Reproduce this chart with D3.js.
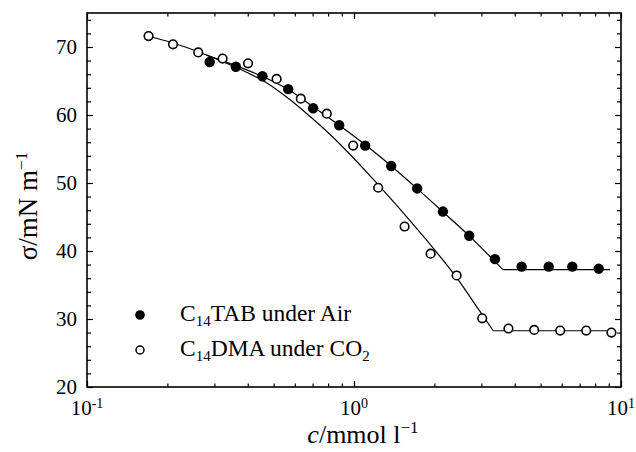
<!DOCTYPE html>
<html>
<head>
<meta charset="utf-8">
<script src="https://cdn.jsdelivr.net/npm/d3@7"></script>
<style>
  body { margin: 0; background: #fff; }
  text { font-family: "Liberation Serif", "Times New Roman", serif; fill: #000; }
</style>
</head>
<body>
<div id="chart-area"></div>
<script>
// C14TAB under air (filled dots)
const tabConc  = [0.288, 0.361, 0.454, 0.567, 0.703, 0.880, 1.101, 1.378, 1.724, 2.153, 2.701, 3.372, 4.245, 5.36, 6.57, 8.25];
const tabSigma = [67.8, 67.1, 65.7, 63.8, 61.0, 58.5, 55.5, 52.5, 49.2, 45.8, 42.25, 38.8, 37.7, 37.7, 37.7, 37.4];

// C14DMA under CO2 (open circles)
const dmaConc  = [0.170, 0.210, 0.261, 0.322, 0.401, 0.513, 0.632, 0.791, 0.993, 1.232, 1.547, 1.936, 2.423, 3.021, 3.788, 4.73, 5.92, 7.41, 9.21];
const dmaSigma = [71.6, 70.4, 69.2, 68.3, 67.6, 65.3, 62.4, 60.2, 55.5, 49.3, 43.6, 39.6, 36.4, 30.1, 28.6, 28.4, 28.3, 28.3, 28.0];

// fitted lines (last two points = flat part after the break)
const tabFitConc  = [0.28, 0.320, 0.374, 0.457, 0.567, 0.703, 0.885, 1.114, 1.382, 1.716, 2.158, 2.694, 3.613, 9.09];
const tabFitSigma = [68.8, 68.0, 67.02, 65.62, 63.74, 61.21, 58.42, 55.48, 52.47, 49.24, 45.71, 42.26, 37.25, 37.25];

const dmaFitConc  = [0.169, 0.210, 0.261, 0.320, 0.396, 0.457, 0.567, 0.683, 0.812, 0.965, 1.147, 1.362, 1.620, 1.980, 2.423, 2.837, 3.322, 9.36];
const dmaFitSigma = [71.62, 70.59, 69.31, 67.9, 66.28, 65.03, 62.46, 59.82, 57.17, 54.23, 51.08, 47.84, 44.46, 40.42, 36.09, 32.2, 28.27, 28.27];

const xMajor = [0.1, 1, 10];
const xMajorExp = ["-1", "0", "1"];
const yMajor = [20, 30, 40, 50, 60, 70];

const width = 636;
const height = 452;
const margin = { top: 13, right: 15, bottom: 65, left: 87 };

const svg = d3.select("#chart-area")
    .append("svg")
    .attr("width", width)
    .attr("height", height);

const x = d3.scaleLog()
    .domain([0.1, 10])
    .range([margin.left, width - margin.right]);

const y = d3.scaleLinear()
    .domain([20, 75])
    .range([height - margin.bottom, margin.top]);

// minor ticks
const xMinor = [];
[0.1, 1].forEach(base => {
    for (let k = 2; k <= 9; k++) xMinor.push(base * k);
});
const yMinor = d3.range(22, 75, 2).filter(v => v % 10 !== 0);

function styleAxis(g) {
    g.select(".domain").remove();
    g.selectAll("line").attr("stroke", "#000").attr("stroke-width", 1.2);
}

const plotBottom = height - margin.bottom;
const plotTop = margin.top;
const plotLeft = margin.left;
const plotRight = width - margin.right;

// bottom / top axis ticks
svg.append("g").attr("transform", `translate(0,${plotBottom})`)
    .call(d3.axisBottom(x).tickValues(xMinor).tickSize(-3.5).tickFormat(""))
    .call(styleAxis);
svg.append("g").attr("transform", `translate(0,${plotBottom})`)
    .call(d3.axisBottom(x).tickValues(xMajor).tickSize(-6).tickFormat(""))
    .call(styleAxis);
svg.append("g").attr("transform", `translate(0,${plotTop})`)
    .call(d3.axisTop(x).tickValues(xMinor).tickSize(-3.5).tickFormat(""))
    .call(styleAxis);
svg.append("g").attr("transform", `translate(0,${plotTop})`)
    .call(d3.axisTop(x).tickValues(xMajor).tickSize(-6).tickFormat(""))
    .call(styleAxis);

// left / right axis ticks
svg.append("g").attr("transform", `translate(${plotLeft},0)`)
    .call(d3.axisLeft(y).tickValues(yMinor).tickSize(-4).tickFormat(""))
    .call(styleAxis);
svg.append("g").attr("transform", `translate(${plotLeft},0)`)
    .call(d3.axisLeft(y).tickValues(yMajor).tickSize(-6).tickPadding(10).tickFormat(d3.format("d")))
    .call(styleAxis)
    .selectAll("text")
    .style("font-size", "21px");
svg.append("g").attr("transform", `translate(${plotRight},0)`)
    .call(d3.axisRight(y).tickValues(yMinor).tickSize(-4).tickFormat(""))
    .call(styleAxis);
svg.append("g").attr("transform", `translate(${plotRight},0)`)
    .call(d3.axisRight(y).tickValues(yMajor).tickSize(-6).tickFormat(""))
    .call(styleAxis);

// x tick labels with exponents
const xLabels = svg.append("g");
xMajor.forEach((v, i) => {
    const t = xLabels.append("text")
        .attr("x", x(v))
        .attr("y", plotBottom + 28)
        .attr("text-anchor", "middle")
        .style("font-size", "21px");
    t.append("tspan").text("10");
    t.append("tspan").attr("dy", -7).style("font-size", "14px").text(xMajorExp[i]);
});

// frame
svg.append("rect")
    .attr("x", plotLeft)
    .attr("y", plotTop)
    .attr("width", plotRight - plotLeft)
    .attr("height", plotBottom - plotTop)
    .attr("fill", "none")
    .attr("stroke", "#000")
    .attr("stroke-width", 1.6);

// fit lines: smooth curved part + straight plateau
const curve = d3.line()
    .x(d => x(d[0]))
    .y(d => y(d[1]))
    .curve(d3.curveCatmullRom.alpha(0.5));
const straight = d3.line()
    .x(d => x(d[0]))
    .y(d => y(d[1]));

[[tabFitConc, tabFitSigma], [dmaFitConc, dmaFitSigma]].forEach(([cs, ss]) => {
    const pts = d3.zip(cs, ss);
    const n = pts.length;
    svg.append("path")
        .datum(pts.slice(0, n - 1))
        .attr("d", curve)
        .attr("fill", "none")
        .attr("stroke", "#000")
        .attr("stroke-width", 1.2);
    svg.append("path")
        .datum(pts.slice(n - 2))
        .attr("d", straight)
        .attr("fill", "none")
        .attr("stroke", "#000")
        .attr("stroke-width", 1.2);
});

// data points
svg.append("g").selectAll("circle")
    .data(d3.zip(dmaConc, dmaSigma))
    .enter()
    .append("circle")
    .attr("cx", d => x(d[0]))
    .attr("cy", d => y(d[1]))
    .attr("r", 4.3)
    .attr("fill", "#fff")
    .attr("stroke", "#000")
    .attr("stroke-width", 1.6);

svg.append("g").selectAll("circle")
    .data(d3.zip(tabConc, tabSigma))
    .enter()
    .append("circle")
    .attr("cx", d => x(d[0]))
    .attr("cy", d => y(d[1]))
    .attr("r", 5.2)
    .attr("fill", "#000");

// legend
const legend = svg.append("g");
legend.append("circle").attr("cx", 140).attr("cy", 315).attr("r", 4.8).attr("fill", "#000");
legend.append("circle").attr("cx", 140).attr("cy", 350).attr("r", 4).attr("fill", "#fff")
    .attr("stroke", "#000").attr("stroke-width", 1.5);

const l1 = legend.append("text").attr("x", 180).attr("y", 321).style("font-size", "23.5px");
l1.append("tspan").text("C");
l1.append("tspan").attr("dy", 5).style("font-size", "15px").text("14");
l1.append("tspan").attr("dy", -5).text("TAB under Air");

const l2 = legend.append("text").attr("x", 180).attr("y", 356).style("font-size", "23.5px");
l2.append("tspan").text("C");
l2.append("tspan").attr("dy", 5).style("font-size", "15px").text("14");
l2.append("tspan").attr("dy", -5).text("DMA under CO");
l2.append("tspan").attr("dy", 5).style("font-size", "15px").text("2");

// axis titles
const xt = svg.append("text")
    .attr("x", 363)
    .attr("y", 443)
    .attr("text-anchor", "middle")
    .style("font-size", "26px");
xt.append("tspan").style("font-style", "italic").text("c");
xt.append("tspan").text("/mmol l");
xt.append("tspan").attr("dy", -10).style("font-size", "17px").text("\u22121");

const yt = svg.append("text")
    .attr("transform", "translate(37,206) rotate(-90)")
    .attr("text-anchor", "middle")
    .style("font-size", "27px");
yt.append("tspan").text("\u03c3/mN m");
yt.append("tspan").attr("dy", -10).style("font-size", "17px").text("\u22121");
</script>
</body>
</html>
